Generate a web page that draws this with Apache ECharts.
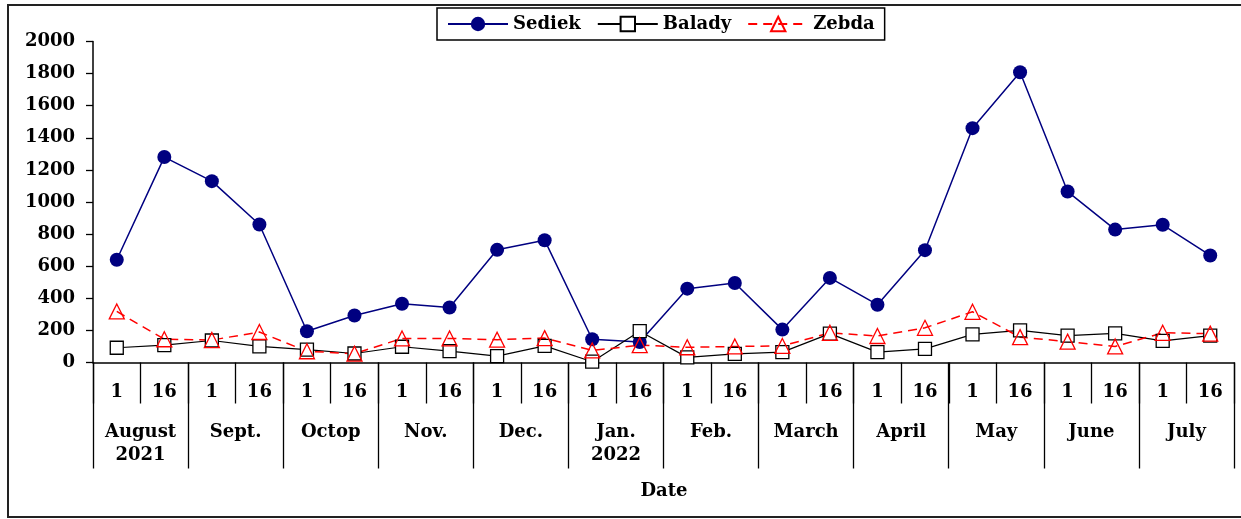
<!DOCTYPE html>
<html lang="en">
<head>
    <meta charset="UTF-8">
    <script src="https://cdn.jsdelivr.net/npm/echarts@6.0.0/dist/echarts.min.js"></script>
    <title>Date</title>
    <style>
        html, body { margin: 0; padding: 0; background: #fff; }
    </style>
</head>
<body>
<div id="main" style="width: 1241px;height:519px;"></div>
<script type="text/javascript">
    // day of month for each half-month sample
    var days = ['1', '16', '1', '16', '1', '16', '1', '16', '1', '16', '1', '16',
        '1', '16', '1', '16', '1', '16', '1', '16', '1', '16', '1', '16'];
    var months = ['August\n2021', 'Sept.', 'Octop', 'Nov.', 'Dec.', 'Jan.\n2022',
        'Feb.', 'March', 'April', 'May', 'June', 'July'];

    var sediek = [640, 1280, 1130, 860, 195, 293, 366, 343, 702, 762, 145, 128,
        460, 495, 205, 527, 360, 700, 1460, 1808, 1065, 828, 858, 667];
    var balady = [92, 108, 137, 100, 80, 56, 98, 71, 40, 104, 5, 195,
        32, 54, 65, 180, 65, 85, 175, 200, 167, 182, 135, 168];
    var zebda = [318, 145, 140, 190, 70, 55, 150, 150, 142, 152, 75, 108,
        95, 100, 103, 185, 165, 216, 316, 158, 130, 100, 185, 180];

    var font = 'DejaVu Serif';
    var fs = 18;
    var chart = echarts.init(document.getElementById('main'));

    var option = {
        animation: false,
        backgroundColor: '#fff',
        textStyle: { fontFamily: font },
        grid: { left: 93, right: 7, top: 41.5, bottom: 156.5 },
        legend: {
            left: 437,
            top: 8,
            padding: [7, 10],
            itemWidth: 60,
            itemHeight: 18,
            itemGap: 16,
            borderColor: '#000',
            borderWidth: 1.5,
            textStyle: { fontFamily: font, fontWeight: 'bold', fontSize: fs, color: '#000' },
            data: ['Sediek', 'Balady', 'Zebda']
        },
        xAxis: [
            {
                type: 'category',
                position: 'bottom',
                data: days,
                boundaryGap: true,
                axisLine: { show: true, lineStyle: { color: '#000', width: 1.5 } },
                axisTick: { show: true, interval: 0, length: 41, lineStyle: { color: '#000', width: 1.3 } },
                axisLabel: {
                    interval: 0, margin: 21, lineHeight: 18,
                    fontFamily: font, fontWeight: 'bold', fontSize: fs, color: '#000'
                }
            },
            {
                type: 'category',
                position: 'bottom',
                data: months,
                boundaryGap: true,
                axisLine: { show: false },
                axisTick: { show: true, interval: 0, length: 106, lineStyle: { color: '#000', width: 1.3 } },
                axisLabel: {
                    interval: 0, margin: 58, lineHeight: 23,
                    fontFamily: font, fontWeight: 'bold', fontSize: fs, color: '#000'
                }
            }
        ],
        yAxis: {
            type: 'value',
            min: 0,
            max: 2000,
            interval: 200,
            splitLine: { show: false },
            axisLine: { show: true, lineStyle: { color: '#000', width: 1.5 } },
            axisTick: { show: true, length: 7, lineStyle: { color: '#000', width: 1.3 } },
            axisLabel: {
                margin: 18, fontFamily: font, fontWeight: 'bold', fontSize: fs, color: '#000',
                formatter: function (v) { return String(v); }
            }
        },
        series: [
            {
                name: 'Sediek',
                type: 'line',
                xAxisIndex: 0,
                data: sediek,
                symbol: 'circle',
                symbolSize: 14,
                lineStyle: { color: '#000080', width: 1.5 },
                itemStyle: { color: '#000080' }
            },
            {
                name: 'Balady',
                type: 'line',
                xAxisIndex: 0,
                data: balady,
                symbol: 'rect',
                symbolSize: 13,
                lineStyle: { color: '#000', width: 1.2 },
                itemStyle: { color: '#fff', borderColor: '#000', borderWidth: 1.3 }
            },
            {
                name: 'Zebda',
                type: 'line',
                xAxisIndex: 0,
                data: zebda,
                symbol: 'triangle',
                symbolSize: 15,
                lineStyle: { color: '#ff0000', width: 1.5, type: [9, 6] },
                itemStyle: { color: 'rgba(255,255,255,0)', borderColor: '#ff0000', borderWidth: 1.3 }
            }
        ],
        graphic: [
            {
                type: 'rect',
                shape: { x: 8, y: 5, width: 1245, height: 512 },
                style: { fill: 'none', stroke: '#222', lineWidth: 2 },
                silent: true
            },
            {
                type: 'text',
                x: 664,
                y: 491,
                style: {
                    text: 'Date',
                    fontFamily: font, fontWeight: 'bold', fontSize: fs, fill: '#000',
                    textAlign: 'center', textVerticalAlign: 'middle'
                }
            }
        ]
    };

    chart.setOption(option);
</script>
</body>
</html>
